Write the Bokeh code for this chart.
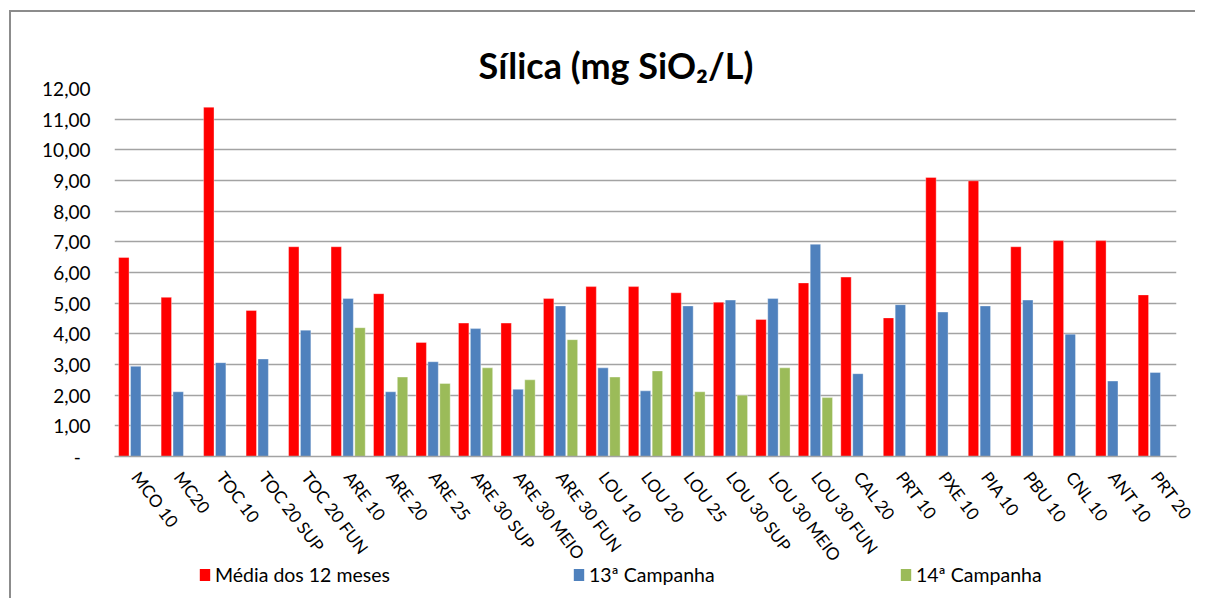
import math
from bokeh.plotting import figure
from bokeh.layouts import column
from bokeh.models import (ColumnDataSource, FactorRange, Range1d, FixedTicker,
                          Legend, LegendItem, Title)
from bokeh.transform import dodge
from bokeh.embed import file_html
from bokeh.resources import INLINE

categories = ["MCO 10", "MC20", "TOC 10", "TOC 20 SUP", "TOC 20 FUN", "ARE 10",
              "ARE 20", "ARE 25", "ARE 30 SUP", "ARE 30 MEIO", "ARE 30 FUN",
              "LOU 10", "LOU 20", "LOU 25", "LOU 30 SUP", "LOU 30 MEIO",
              "LOU 30 FUN", "CAL 20", "PRT 10", "PXE 10", "PIA 10", "PBU 10",
              "CNL 10", "ANT 10", "PRT 20"]

media_12_meses = [6.49, 5.19, 11.39, 4.76, 6.84, 6.84, 5.31, 3.72, 4.35, 4.35,
                  5.15, 5.54, 5.54, 5.34, 5.03, 4.47, 5.66, 5.85, 4.52, 9.10,
                  8.99, 6.84, 7.04, 7.04, 5.27]
campanha_13 = [2.94, 2.11, 3.06, 3.18, 4.12, 5.15, 2.11, 3.09, 4.17, 2.19,
               4.91, 2.89, 2.14, 4.91, 5.10, 5.15, 6.92, 2.70, 4.95, 4.71,
               4.91, 5.10, 3.99, 2.46, 2.74]
campanha_14 = [None, None, None, None, None, 4.20, 2.59, 2.38, 2.89, 2.50,
               3.81, 2.59, 2.79, 2.11, 2.00, 2.89, 1.92, None, None, None,
               None, None, None, None, None]

y_ticks = list(range(0, 13))
y_labels = {t: ("-\u00a0\u00a0" if t == 0 else f"{t},00") for t in y_ticks}

series_names = ["Média dos 12 meses", "13ª Campanha", "14ª Campanha"]
colors = ["#FF0000", "#4F81BD", "#9BBB59"]

FONT = "Lato"
GRID = "#a3a3a3"

src = ColumnDataSource(dict(
    cat=categories,
    s1=media_12_meses,
    s2=campanha_13,
    s3=[float("nan") if v is None else v for v in campanha_14],
))

# ---------------- main chart ----------------
p = figure(x_range=FactorRange(factors=categories, range_padding=0),
           y_range=Range1d(0, 12),
           width=1186, height=570,
           output_backend="svg", toolbar_location=None,
           min_border_left=103, min_border_right=21,
           min_border_top=76, min_border_bottom=126)
p.outline_line_color = None
p.background_fill_color = "white"
p.border_fill_color = "white"

offsets = [-0.28, 0.0, 0.28]
for key, off, col in zip(["s1", "s2", "s3"], offsets, colors):
    p.vbar(x=dodge("cat", off, range=p.x_range), top=key, width=0.245,
           source=src, fill_color=col, line_color="white", line_alpha=0.35,
           line_width=1)

p.title = Title(text="Sílica (mg SiO\u2082/L)", align="left", offset=364,
                text_font=FONT, text_font_size="36px", text_font_style="bold",
                text_color="#000000", standoff=4)

p.yaxis.ticker = FixedTicker(ticks=y_ticks)
p.yaxis.major_label_overrides = y_labels
p.yaxis.axis_line_color = None
p.yaxis.major_tick_line_color = None
p.yaxis.major_tick_out = 0
p.yaxis.major_tick_in = 0
p.yaxis.minor_tick_line_color = None
p.yaxis.major_label_text_font = FONT
p.yaxis.major_label_text_font_size = "19px"
p.yaxis.major_label_text_color = "#000000"
p.yaxis.major_label_standoff = 24

p.ygrid.grid_line_color = GRID
p.ygrid.grid_line_width = 1.5
p.xgrid.grid_line_color = None

p.xaxis.axis_line_color = GRID
p.xaxis.axis_line_width = 1.5
p.xaxis.major_tick_line_color = None
p.xaxis.major_tick_out = 0
p.xaxis.major_tick_in = 0
p.xaxis.minor_tick_line_color = None
p.xaxis.major_label_orientation = -0.925
p.xaxis.major_label_text_font = FONT
p.xaxis.major_label_text_font_size = "17px"
p.xaxis.major_label_text_color = "#000000"
p.xaxis.major_label_standoff = 17

# ---------------- legend strip (overlaps the bottom of the chart) ----------------
p2 = figure(x_range=Range1d(0, 1), y_range=Range1d(0, 1),
            width=1186, height=40, output_backend="svg", toolbar_location=None,
            x_axis_location=None, y_axis_location=None,
            min_border=0, min_border_left=0, min_border_right=0,
            min_border_top=0, min_border_bottom=0)
p2.outline_line_color = None
p2.xgrid.visible = False
p2.ygrid.visible = False
p2.background_fill_alpha = 0
p2.border_fill_alpha = 0
p2.styles = {"margin-top": "-22px"}

legend_x = [84, 458, 785]
for name, col, lx in zip(series_names, colors, legend_x):
    # legend swatch only: a zero-height bar placed outside the visible range
    r = p2.vbar(x=[-5], top=[0], width=0.1, fill_color=col, line_color=None)
    lg = Legend(items=[LegendItem(label=name, renderers=[r])],
                location=(lx, 14), orientation="horizontal",
                padding=0, margin=0, spacing=0,
                glyph_width=13, glyph_height=15, label_height=12,
                label_standoff=4, label_text_baseline="alphabetic",
                label_text_font=FONT, label_text_font_size="19.5px",
                label_text_color="#000000",
                border_line_color=None, background_fill_alpha=0)
    p2.add_layout(lg, "center")

layout = column(p, p2, spacing=0)
layout.styles = {"margin-left": "11px", "margin-top": "12px",
                 "overflow": "visible",
                 "box-shadow": "-2px -2px 0px 0px #8c8c8c"}

open("out.html", "w").write(file_html(layout, INLINE))
